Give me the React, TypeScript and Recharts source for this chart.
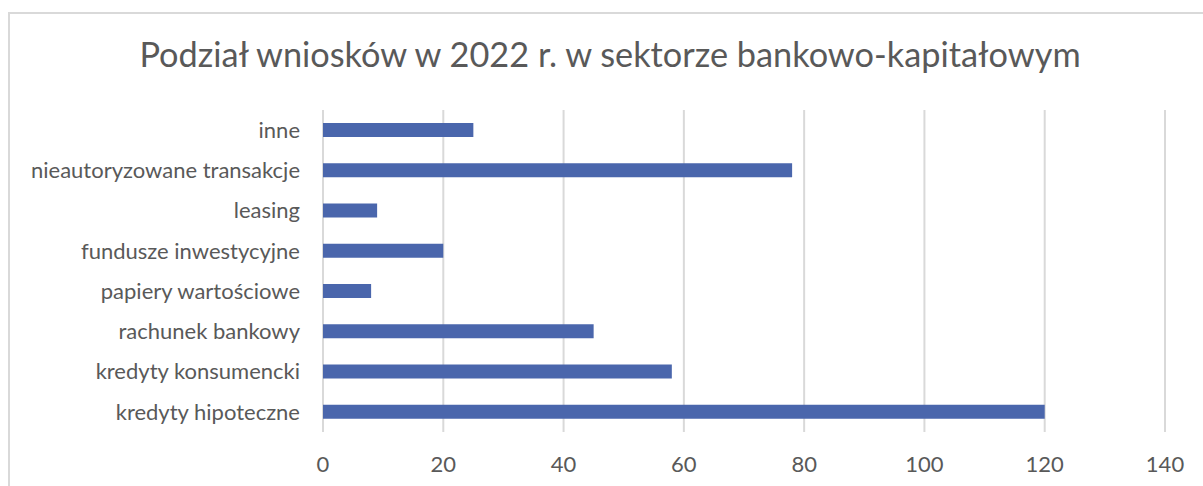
// Horizontal bar chart: complaints in the banking/capital sector, 2022.

import { Bar, BarChart, CartesianGrid, XAxis, YAxis } from "recharts";

const categories = [
  "inne",
  "nieautoryzowane transakcje",
  "leasing",
  "fundusze inwestycyjne",
  "papiery wartościowe",
  "rachunek bankowy",
  "kredyty konsumencki",
  "kredyty hipoteczne",
];
const counts = [25, 78, 9, 20, 8, 45, 58, 120];
const xTicks = [0, 20, 40, 60, 80, 100, 120, 140];

const TITLE = "Podział wniosków w 2022 r. w sektorze bankowo-kapitałowym";
const TEXT = "#595959";
const FONT = "Lato, 'Open Sans', sans-serif";

const rows = categories.map((name, i) => ({ name, value: counts[i] }));

export default function App() {
  return (
    <div
      style={{
        position: "absolute",
        left: 0,
        top: 0,
        width: 1203,
        height: 486,
        overflow: "hidden",
        background: "#fff",
        fontFamily: FONT,
      }}
    >
      <div
        style={{
          position: "absolute",
          left: 8,
          top: 12,
          width: 1300,
          height: 600,
          borderLeft: "2px solid #d9d9d9",
          borderTop: "2px solid #d9d9d9",
        }}
      />
      <div
        style={{
          position: "absolute",
          left: 0,
          width: 1220,
          top: 32,
          textAlign: "center",
          fontSize: 34.3,
          color: TEXT,
          lineHeight: "44px",
          whiteSpace: "nowrap",
        }}
      >
        {TITLE}
      </div>
      <BarChart
        layout="vertical"
        data={rows}
        width={1203}
        height={486}
        margin={{ top: 110, right: 38, left: 0, bottom: 14 }}
        style={{ position: "absolute", left: 0, top: 0 }}
      >
        <CartesianGrid horizontal={false} stroke="#d9d9d9" strokeWidth={2} />
        <XAxis
          type="number"
          domain={[0, 140]}
          ticks={xTicks}
          axisLine={false}
          tickLine={false}
          tickSize={0}
          tickMargin={24}
          height={40}
          tick={{ fill: TEXT, fontSize: 22, fontFamily: FONT }}
        />
        <YAxis
          type="category"
          dataKey="name"
          width={323}
          axisLine={false}
          tickLine={false}
          tickSize={0}
          tickMargin={23}
          tick={{ fill: TEXT, fontSize: 22, fontFamily: FONT }}
        />
        <Bar dataKey="value" fill="#4a66ac" barSize={14} isAnimationActive={false} />
      </BarChart>
    </div>
  );
}
